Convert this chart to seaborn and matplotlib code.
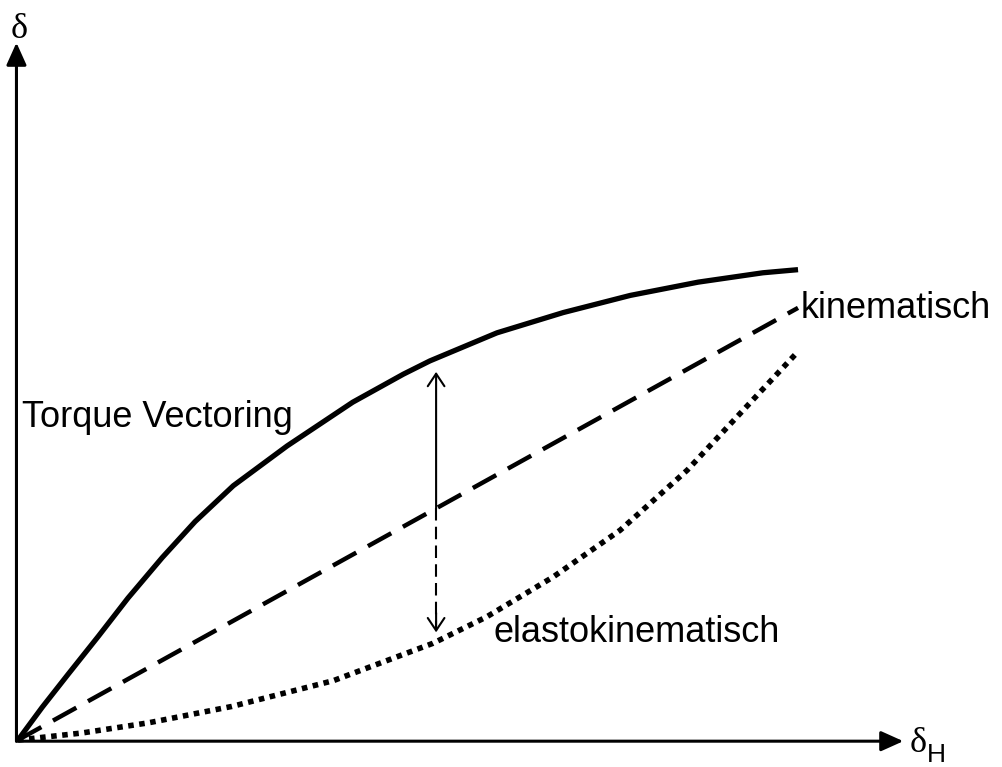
import numpy as np
import pandas as pd
import seaborn as sns
import matplotlib.pyplot as plt

# Kennlinien, delta_H in 0..100, delta in gleicher Skala
tv_x = [0, 3.1, 6.4, 10.3, 14.1, 18.5, 22.7, 27.6, 34.5, 42.9, 49.4, 52.8,
        61.4, 69.9, 78.5, 87.2, 95.5, 100]
tv_y = [0, 4.2, 8.4, 13.3, 18.2, 23.4, 28.0, 32.6, 37.7, 43.3, 46.9, 48.6,
        52.2, 54.8, 57.0, 58.7, 59.9, 60.3]

kin_x = [0, 100]
kin_y = [0, 55.4]

elasto_x = [0, 8.2, 16.7, 27.4, 40.4, 53.2, 60.1, 68.6, 77.2, 85.8, 94.2, 100]
elasto_y = [0, 0.9, 2.2, 4.3, 7.6, 12.4, 15.8, 20.9, 26.9, 34.6, 43.6, 49.8]

# Doppelpfeil bei delta_H = 53.6
arrow_x = 53.6
arrow_top = 47.2
arrow_mid = 29.7
arrow_bottom = 13.8

sns.set_style('white')
plt.rcParams['font.family'] = ['Liberation Sans', 'DejaVu Sans']
plt.rcParams['text.color'] = 'black'

fig = plt.figure(figsize=(10.02, 7.67), dpi=100)
ax = fig.add_axes([0, 0, 1, 1])
ax.set_xlim(-2.31, 126.15)
ax.set_ylim(-3.46, 94.87)
ax.axis('off')

tv = pd.DataFrame({'x': tv_x, 'y': tv_y})
kin = pd.DataFrame({'x': kin_x, 'y': kin_y})
el = pd.DataFrame({'x': elasto_x, 'y': elasto_y})

sns.lineplot(data=tv, x='x', y='y', ax=ax, color='black', lw=3.8,
             solid_capstyle='butt', solid_joinstyle='round')
sns.lineplot(data=kin, x='x', y='y', ax=ax, color='black', lw=3.2,
             linestyle=(0, (6.0, 3.0)))
sns.lineplot(data=el, x='x', y='y', ax=ax, color='black', lw=4.0,
             linestyle=(0, (1, 1)))

# Achsen mit Pfeilen
origin = (-0.2, -0.15)
axis_head = '-|>,head_length=0.4,head_width=0.18'
ax.annotate('', xy=(113.5, origin[1]), xytext=origin,
            arrowprops=dict(arrowstyle=axis_head, lw=2.2, color='black',
                            mutation_scale=34, shrinkA=0, shrinkB=0))
ax.annotate('', xy=(origin[0], 89.4), xytext=origin,
            arrowprops=dict(arrowstyle=axis_head, lw=2.2, color='black',
                            mutation_scale=34, shrinkA=0, shrinkB=0))

# Pfeil nach oben (durchgezogen)
small_head = '->,head_length=0.45,head_width=0.3'
ax.annotate('', xy=(arrow_x, arrow_top), xytext=(arrow_x, arrow_mid),
            arrowprops=dict(arrowstyle=small_head, lw=1.5, color='black',
                            mutation_scale=20, shrinkA=0, shrinkB=0))
# Pfeil nach unten (gestrichelt)
ax.plot([arrow_x, arrow_x], [arrow_mid, arrow_bottom + 0.3], color='black',
        lw=1.5, linestyle=(0, (6, 3)))
ax.annotate('', xy=(arrow_x, arrow_bottom), xytext=(arrow_x, arrow_bottom + 2.5),
            arrowprops=dict(arrowstyle=small_head, lw=1.5, color='black',
                            mutation_scale=20, shrinkA=0, shrinkB=0))

# Beschriftungen
ax.text(0.5, 40.1, 'Torque Vectoring', fontsize=26, va='baseline', ha='left')
ax.text(100.3, 54.1, 'kinematisch', fontsize=26, va='baseline', ha='left')
ax.text(60.9, 12.6, 'elastokinematisch', fontsize=26, va='baseline', ha='left')

ax.text(0.13, 90.0, 'δ', fontsize=26, family='Liberation Serif',
        va='baseline', ha='center')
ax.text(116.5, -1.54, 'δ', fontsize=26, family='Liberation Serif',
        va='baseline', ha='right')
ax.text(116.5, -2.82, 'H', fontsize=19, va='baseline', ha='left')

fig.savefig('out.png', dpi=100)
